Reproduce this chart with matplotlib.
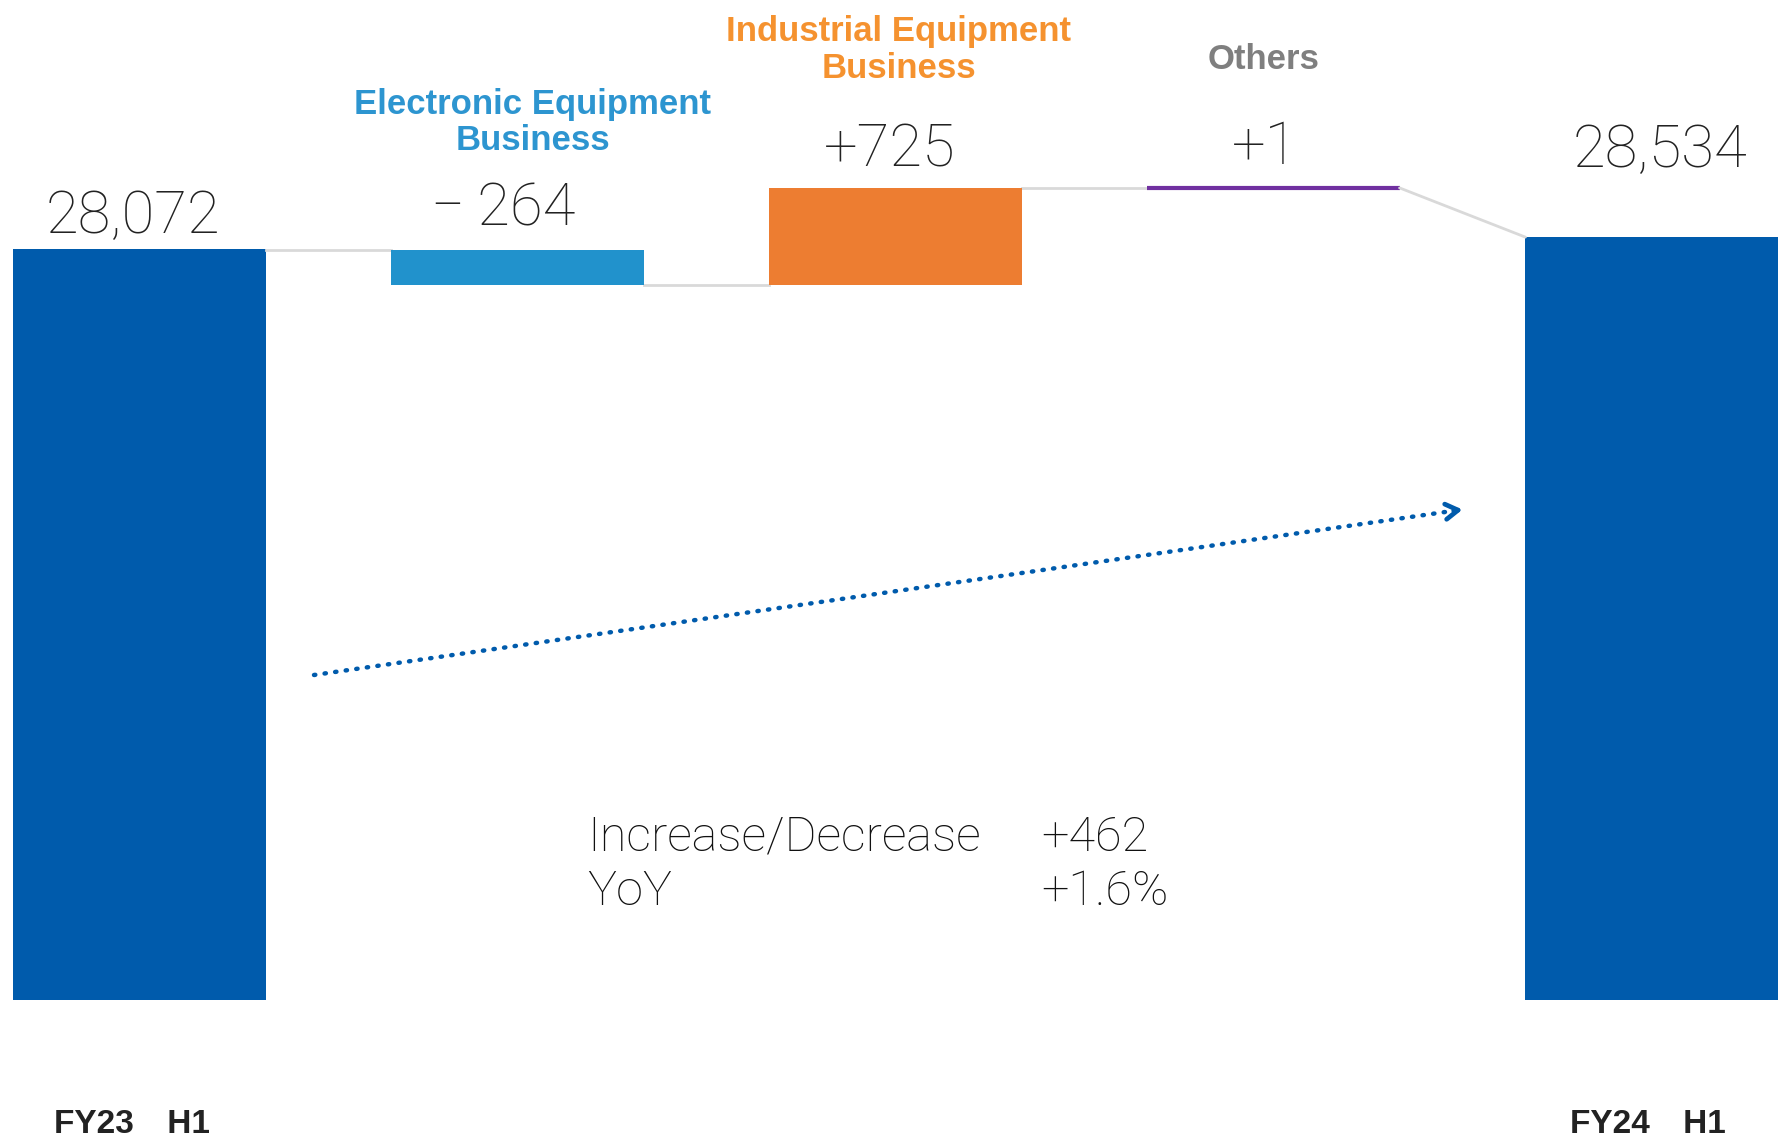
import matplotlib
matplotlib.use("Agg")
import matplotlib.pyplot as plt
from matplotlib.patches import ConnectionPatch
from matplotlib.transforms import blended_transform_factory

# data
start_label = "FY23　H1"
end_label = "FY24　H1"
start_value = 28072
end_value = 28534
seg_names = ["Electronic Equipment\nBusiness", "Industrial Equipment\nBusiness", "Others"]
seg_deltas = [-264, 725, 1]
seg_texts = ["−\u2009264", "+725", "+1"]
total_texts = ["28,072", "28,534"]
summary_labels = ["Increase/Decrease", "YoY"]
summary_values = ["+462", "+1.6%"]

# colours
c_total = "#005BAC"
c_bars = ["#2192CC", "#ED7D31", "#7030A0"]
c_names = ["#2D95D0", "#F5922F", "#7F7F7F"]
c_conn = "#D9D9D9"

num_font = ["Roboto", "DejaVu Sans"]
lab_font = ["Liberation Sans", "DejaVu Sans"]

W, H = 1778, 1137
fig = plt.figure(figsize=(W / 100, H / 100), dpi=100)

# px layout: bar centres 139.5 .. 1651, bar baseline at y=1000 from top
spacing = 378.0
x0 = 139.5
base_px = 1000.0
xlim = (-x0 / spacing, (W - x0) / spacing)
bw = 0.667

# end bars on true scale (0 at baseline)
ax = fig.add_axes([0, 0, 1, 1])
scale1 = start_value / (base_px - 249.5)
ax.set_xlim(*xlim)
ax.set_ylim(-(H - base_px) * scale1, base_px * scale1)
ax.axis("off")

# deltas on an exaggerated scale, start value sits at same height
ax2 = ax.twinx()
scale2 = 7.5
ax2.set_xlim(*xlim)
ax2.set_ylim(start_value - (H - 249.5) * scale2, start_value + 249.5 * scale2)
ax2.axis("off")

ax.bar([0, 4], [start_value, end_value], width=bw, color=c_total, zorder=2)

level = start_value
tops = []
for i, d in enumerate(seg_deltas):
    xi = i + 1
    lo = min(level, level + d)
    if abs(d) < 5:
        ax2.plot([xi - bw / 2, xi + bw / 2], [level + d, level + d],
                 color=c_bars[i], lw=3, solid_capstyle="butt", zorder=3)
    else:
        ax2.bar(xi, abs(d), bottom=lo, width=bw, color=c_bars[i], zorder=2)
    # connector from previous bar
    ax2.plot([xi - 1 + bw / 2, xi - bw / 2], [level, level],
             color=c_conn, lw=2, zorder=1)
    level = level + d
    tops.append(max(level, level - d))

# connector from last segment to end bar (different scales)
con = ConnectionPatch(xyA=(3 + bw / 2, level), coordsA=ax2.transData,
                      xyB=(4 - bw / 2, end_value), coordsB=ax.transData,
                      color=c_conn, lw=2)
fig.add_artist(con)

# value labels
ax.annotate(total_texts[0], (0, start_value), xytext=(-7, 17), textcoords="offset pixels",
            ha="center", va="baseline", fontsize=43, family=num_font, fontweight="light",
            color="#222222")
ax.annotate(total_texts[1], (4, end_value), xytext=(9, 70), textcoords="offset pixels",
            ha="center", va="baseline", fontsize=43, family=num_font, fontweight="light",
            color="#222222")
seg_dx = [-14, -6, -8]
seg_dy = [24, 22, 24]
name_dx = [15, 3, -10]
name_dy = [92, 103, 112]
for i in range(3):
    ax2.annotate(seg_texts[i], (i + 1, tops[i]), xytext=(seg_dx[i], seg_dy[i]),
                 textcoords="offset pixels", ha="center", va="baseline", fontsize=43,
                 family=num_font, fontweight="light", color="#222222")
    ax2.annotate(seg_names[i], (i + 1, tops[i]), xytext=(name_dx[i], name_dy[i]),
                 textcoords="offset pixels", ha="center", va="bottom", fontsize=25,
                 family=lab_font, fontweight="bold", color=c_names[i], linespacing=1.15)

# category labels at bottom
tr = blended_transform_factory(ax.transData, fig.transFigure)
ax.text(-0.02, (H - 1133) / H, start_label, transform=tr, ha="center", va="baseline",
        fontsize=24, fontweight="bold", family=["Liberation Sans", "Noto Sans CJK JP"],
        color="#222222")
ax.text(3.99, (H - 1133) / H, end_label, transform=tr, ha="center", va="baseline",
        fontsize=24, fontweight="bold", family=["Liberation Sans", "Noto Sans CJK JP"],
        color="#222222")

# dotted trend arrow
p0 = (314 / W, 1 - 675 / H)
p1 = (1459 / W, 1 - 510 / H)
fig.add_artist(plt.Line2D([p0[0], p1[0]], [p0[1], p1[1]], transform=fig.transFigure,
                          color=c_total, lw=3.2, linestyle=(0, (0.3, 2.1)),
                          dash_capstyle="round"))
ax.annotate("", xy=(p1[0] + 0.002, p1[1] + 0.0004), xycoords="figure fraction",
            xytext=(p1[0] - 0.003, p1[1] - 0.0006), textcoords="figure fraction",
            arrowprops=dict(arrowstyle="->,head_length=0.9,head_width=0.55", color=c_total,
                            lw=3.4, shrinkA=0, shrinkB=0))

# summary text
for j in range(2):
    yb = 1 - (851 + 54 * j) / H
    fig.text(587 / W, yb, summary_labels[j], ha="left", va="baseline", fontsize=35,
             family=num_font, fontweight="light", color="#111111")
    fig.text(1041 / W, yb, summary_values[j], ha="left", va="baseline", fontsize=35,
             family=num_font, fontweight="light", color="#111111")

fig.savefig("out.png", dpi=100, facecolor="white")
